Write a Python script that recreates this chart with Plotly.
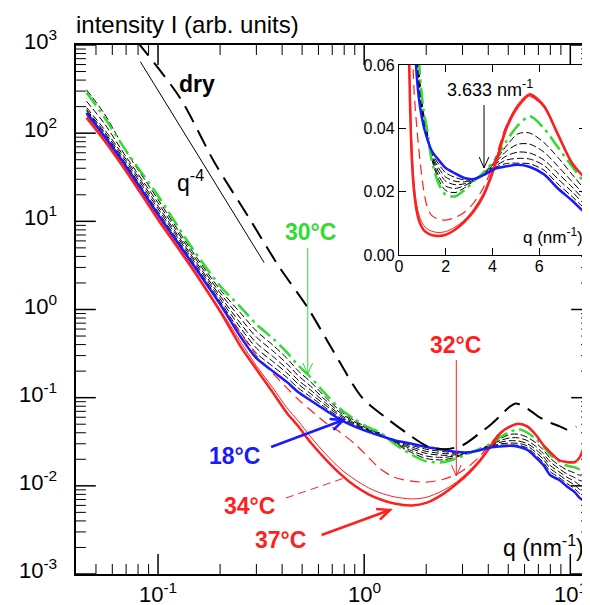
import math
import plotly.graph_objects as go

# ---------------- data ----------------
q = [0.045, 0.055, 0.07, 0.1, 0.14, 0.2, 0.25, 0.3, 0.36, 0.42, 0.48, 0.55, 0.65,
     0.77, 0.9, 1.05, 1.2, 1.4, 1.7, 2.0, 2.4, 2.8, 3.2, 3.63, 4.1, 4.6, 5.1, 5.6,
     6.2, 6.8, 7.4, 8.0, 8.8, 9.6, 10.5, 11.1, 11.6]

I_18 = [170, 92, 42, 12, 3.9, 1.15, 0.50, 0.28, 0.20, 0.152, 0.115, 0.093, 0.072,
        0.056, 0.047, 0.041, 0.037, 0.033, 0.030, 0.0275, 0.0258, 0.0243, 0.024, 0.0253,
        0.0272, 0.028, 0.0285, 0.0278, 0.0255, 0.021, 0.0172, 0.0132, 0.0117, 0.0099,
        0.0085, 0.0073, 0.0068]
I_20 = [180, 99, 44.6, 12.9, 4.14, 1.235, 0.561, 0.32, 0.227, 0.171, 0.128, 0.102, 0.0768,
        0.0584, 0.0484, 0.0417, 0.0373, 0.0325, 0.0287, 0.0260, 0.0245, 0.0237, 0.0239, 0.0254,
        0.0276, 0.0289, 0.029, 0.0288, 0.0268, 0.0224, 0.0185, 0.0145, 0.0125, 0.0107,
        0.0093, 0.0082, 0.0078]
I_22 = [185, 103, 47.4, 13.9, 4.4, 1.326, 0.63, 0.365, 0.258, 0.192, 0.142, 0.111, 0.0818,
        0.0609, 0.0498, 0.0424, 0.0377, 0.032, 0.0275, 0.0246, 0.0233, 0.0231, 0.0238, 0.0255,
        0.028, 0.030, 0.0305, 0.0303, 0.0283, 0.024, 0.020, 0.0157, 0.0134, 0.0116,
        0.0102, 0.0091, 0.0088]
I_24 = [195, 110, 50.4, 14.9, 4.66, 1.425, 0.707, 0.417, 0.294, 0.215, 0.157, 0.122, 0.0871,
        0.0635, 0.0513, 0.0431, 0.0382, 0.0315, 0.0263, 0.0233, 0.0222, 0.0225, 0.0237, 0.0257,
        0.0285, 0.0313, 0.0325, 0.0322, 0.030, 0.0258, 0.0215, 0.017, 0.0145, 0.0126,
        0.0112, 0.0102, 0.010]
I_26 = [230, 128, 54, 16.2, 4.99, 1.545, 0.806, 0.486, 0.34, 0.246, 0.177, 0.135, 0.0936,
        0.0666, 0.053, 0.044, 0.0387, 0.031, 0.025, 0.0218, 0.021, 0.0219, 0.0235, 0.0258,
        0.029, 0.0328, 0.035, 0.035, 0.0325, 0.028, 0.0232, 0.0187, 0.0157, 0.0137,
        0.0124, 0.0115, 0.0113]
I_28 = [310, 165, 62, 17.7, 5.36, 1.68, 0.926, 0.57, 0.396, 0.283, 0.20, 0.151, 0.101,
        0.070, 0.0549, 0.045, 0.0393, 0.0305, 0.0238, 0.0204, 0.0197, 0.0212, 0.0234, 0.026,
        0.0295, 0.0345, 0.0383, 0.0385, 0.0355, 0.0308, 0.0255, 0.0205, 0.0172, 0.0152,
        0.014, 0.0132, 0.0135]
I_30 = [290, 150, 63, 19.5, 5.8, 1.85, 1.08, 0.68, 0.47, 0.33, 0.23, 0.17, 0.11,
        0.074, 0.057, 0.046, 0.040, 0.030, 0.0225, 0.019, 0.0185, 0.0205, 0.0232, 0.0262,
        0.030, 0.036, 0.041, 0.0438, 0.040, 0.034, 0.028, 0.0225, 0.019, 0.017,
        0.0162, 0.0155, 0.0165]
I_32 = [165, 90, 40, 11.8, 3.8, 1.15, 0.55, 0.30, 0.19, 0.13, 0.095, 0.072, 0.052,
        0.040, 0.030, 0.021, 0.0155, 0.0125, 0.0113, 0.0110, 0.0118, 0.0135, 0.0165, 0.0215,
        0.030, 0.041, 0.047, 0.050, 0.0468, 0.038, 0.029, 0.024, 0.0198, 0.0189,
        0.0187, 0.021, 0.025]
I_34 = [160, 87, 39, 11.2, 3.6, 1.0, 0.44, 0.23, 0.13, 0.078, 0.054, 0.036, 0.023,
        0.0155, 0.0118, 0.0095, 0.0083, 0.0075, 0.0071, 0.0074, 0.0088, 0.0110, 0.0145, 0.0198,
        0.029, 0.041, 0.0478, 0.051, 0.0475, 0.0385, 0.0295, 0.0242, 0.0198, 0.0189,
        0.0188, 0.021, 0.026]
I_37 = [150, 82, 37, 10.5, 3.4, 0.95, 0.39, 0.21, 0.115, 0.068, 0.047, 0.031, 0.020,
        0.0135, 0.0100, 0.0080, 0.0070, 0.0063, 0.0060, 0.0064, 0.0080, 0.0105, 0.0138, 0.0190,
        0.028, 0.040, 0.047, 0.0505, 0.047, 0.038, 0.029, 0.0240, 0.0195, 0.0186,
        0.0185, 0.021, 0.027]

dry_q = [0.079, 0.1276, 0.188, 0.274, 0.386, 0.532, 0.71, 0.978, 1.29, 1.6, 2.03, 2.45,
         2.99, 3.73, 4.12, 4.6, 5.03, 5.44, 6.2, 7.0, 8.0, 8.95, 9.6, 10.7]
dry_I = [1100, 253, 46.4, 11.3, 3.07, 1.05, 0.334, 0.10, 0.058, 0.040, 0.028, 0.026,
         0.0287, 0.0414, 0.0497, 0.063, 0.0775, 0.086, 0.075, 0.061, 0.052, 0.047, 0.0436, 0.047]

q4_q = [0.082, 0.327]
q4_I = [648, 3.41]

main_xticks = [0.1, 1, 10]
main_xticktext = ["10<sup>-1</sup>", "10<sup>0</sup>", "10<sup>1</sup>"]
main_yticks = [1e-3, 1e-2, 1e-1, 1, 10, 100, 1000]
main_yticktext = ["10<sup>-3</sup>", "10<sup>-2</sup>", "10<sup>-1</sup>", "10<sup>0</sup>",
                  "10<sup>1</sup>", "10<sup>2</sup>", "10<sup>3</sup>"]
inset_xticks = [0, 2, 4, 6, 8]
inset_yticks = [0, 0.02, 0.04, 0.06]
inset_yticktext = ["0.00", "0.02", "0.04", "0.06"]

X_MIN, X_MAX = 0.04, 12.6
x_minor = [m * 10.0 ** e for e in (-2, -1, 0, 1) for m in range(2, 10)]
y_minor = [m * 10.0 ** e for e in (-3, -2, -1, 0, 1, 2) for m in range(2, 10)]

# ---------------- styling ----------------
W, H = 590, 605
ML, MR, MT, MB = 68, 2, 37, 39
PW, PH = W - ML - MR, H - MT - MB
X0, X1, Y0, Y1 = ML, W - MR, MT, H - MB          # frame in pixels
INSET = (394, 583, 57, 247)                       # inset frame in pixels (l, r, t, b)
FONT = "Liberation Sans, Arial, sans-serif"
BLUE, RED, GREEN = "#1a1aff", "#ff1f1f", "#2fdc2f"


def P(x, y):
    return (x - ML) / PW, (H - MB - y) / PH


def xpix(v):
    lo, hi = math.log10(X_MIN), math.log10(X_MAX)
    return X0 + PW * (math.log10(v) - lo) / (hi - lo)


def ypix(v):
    return Y1 - PH * (math.log10(v) + 3) / 6


fig = go.Figure()

curves = [
    (I_20, "black", 1, "7px,3px"),
    (I_22, "black", 1, "7px,3px"),
    (I_24, "black", 1, "7px,3px"),
    (I_26, "black", 1, "7px,3px"),
    (I_28, "black", 1, "7px,3px"),
    (I_30, GREEN, 2.5, "16px,5px,3px,5px"),
    (I_32, RED, 1.2, "10px,6px"),
    (I_34, RED, 1, "solid"),
    (I_37, RED, 2.5, "solid"),
    (I_18, BLUE, 2.5, "solid"),
]
for vals, color, width, dash in curves:
    for xa, ya in (("x", "y"), ("x2", "y2")):
        fig.add_trace(go.Scatter(
            x=q, y=vals, mode="lines", xaxis=xa, yaxis=ya,
            line=dict(color=color, width=width, dash=dash, shape="spline", smoothing=0.8),
            showlegend=False, hoverinfo="skip"))

fig.add_trace(go.Scatter(x=dry_q, y=dry_I, mode="lines", xaxis="x", yaxis="y",
                         line=dict(color="black", width=2, dash="18px,9px", shape="spline", smoothing=0.8),
                         showlegend=False, hoverinfo="skip"))
fig.add_trace(go.Scatter(x=q4_q, y=q4_I, mode="lines", xaxis="x", yaxis="y",
                         line=dict(color="black", width=1),
                         showlegend=False, hoverinfo="skip"))

fig.update_layout(
    width=W, height=H, margin=dict(l=ML, r=MR, t=MT, b=MB, pad=0),
    paper_bgcolor="white", plot_bgcolor="white",
    font=dict(family=FONT, color="black"),
    xaxis=dict(type="log", range=[math.log10(X_MIN), math.log10(X_MAX)], domain=[0, 1],
               anchor="y", showticklabels=False, ticks="",
               showline=True, linecolor="black", linewidth=1.5, mirror=True,
               showgrid=False, zeroline=False),
    yaxis=dict(type="log", range=[-3, 3], domain=[0, 1], anchor="x",
               showticklabels=False, ticks="",
               showline=True, linecolor="black", linewidth=1.5, mirror=True,
               showgrid=False, zeroline=False),
    xaxis2=dict(range=[0, 8], domain=[P(INSET[0], 0)[0], P(INSET[1], 0)[0]], anchor="y2",
                tickmode="array", tickvals=inset_xticks,
                showline=True, linecolor="black", linewidth=1, mirror="ticks",
                ticks="inside", ticklen=7, tickwidth=1, tickcolor="black",
                showgrid=False, zeroline=False, tickfont=dict(size=16), ticklabelstandoff=-3),
    yaxis2=dict(range=[0, 0.06], domain=[P(0, INSET[3])[1], P(0, INSET[2])[1]], anchor="x2",
                tickmode="array", tickvals=inset_yticks, ticktext=inset_yticktext,
                showline=True, linecolor="black", linewidth=1, mirror="ticks",
                ticks="inside", ticklen=7, tickwidth=1, tickcolor="black",
                showgrid=False, zeroline=False, tickfont=dict(size=16)),
)


def seg(xa, ya, xb, yb, width, color="black", dash="solid"):
    a0, b0 = P(xa, ya)
    a1, b1 = P(xb, yb)
    fig.add_shape(type="line", xref="paper", yref="paper", x0=a0, y0=b0, x1=a1, y1=b1,
                  line=dict(color=color, width=width, dash=dash))


# ticks of the main log-log frame (inside, on all four sides)
for vals, L, w in ((main_yticks, 20, 1.5), (y_minor, 10, 1)):
    for v in vals:
        y = ypix(v)
        seg(X0, y, X0 + L, y, w)
        right_start = X1 - L
        if INSET[2] <= y <= INSET[3]:
            right_start = max(right_start, INSET[1])
        seg(right_start, y, X1, y, w)
for vals, L, w in ((main_xticks, 20, 1.5), (x_minor, 10, 1)):
    for v in vals:
        if not (X_MIN < v < X_MAX):
            continue
        x = xpix(v)
        seg(x, Y1, x, Y1 - L, w)
        seg(x, Y0, x, Y0 + L, w)

# tick labels of the main frame
for v, t in zip(main_yticks, main_yticktext):
    xp, yp = P(51, ypix(v) - 5)
    fig.add_annotation(x=xp, y=yp, xref="paper", yref="paper", text=t, showarrow=False,
                       xanchor="right", yanchor="middle", font=dict(size=22, color="black", family=FONT))
for v, t in zip(main_xticks, main_xticktext):
    xp, yp = P(xpix(v), 585)
    fig.add_annotation(x=xp, y=yp, xref="paper", yref="paper", text=t, showarrow=False,
                       xanchor="center", yanchor="middle", font=dict(size=22, color="black", family=FONT))


def arrow(x0, y0, x1, y1, color, width, head=11, dash="solid", spread=24):
    seg(x0, y0, x1, y1, width, color, dash)
    if head:
        dx, dy = x1 - x0, y1 - y0
        L = math.hypot(dx, dy)
        ux, uy = dx / L, dy / L
        pts = []
        for s in (1, -1):
            an = math.radians(spread) * s
            rx = ux * math.cos(an) - uy * math.sin(an)
            ry = ux * math.sin(an) + uy * math.cos(an)
            pts.append(P(x1 - head * rx, y1 - head * ry))
        a1, b1 = P(x1, y1)
        path = "M {} {} L {} {} L {} {}".format(pts[0][0], pts[0][1], a1, b1, pts[1][0], pts[1][1])
        fig.add_shape(type="path", xref="paper", yref="paper", path=path,
                      line=dict(color=color, width=width))


arrow(302, 240, 302, 366, GREEN, 1, head=12)
arrow(452, 352, 452, 468, RED, 1, head=12)
arrow(265, 439, 338, 412, BLUE, 2.5, head=14)
arrow(316, 527, 385, 502, RED, 2.5, head=14)
arrow(280, 490, 342, 469, RED, 1, head=0, dash="8px,5px")
arrow(480, 97, 480, 160, "black", 1, head=12)


def text(x, y, s, size, color="black", bold=False, xanchor="center"):
    xp, yp = P(x, y)
    fig.add_annotation(x=xp, y=yp, xref="paper", yref="paper", text=("<b>%s</b>" % s) if bold else s,
                       showarrow=False, xanchor=xanchor, yanchor="middle",
                       font=dict(size=size, color=color, family=FONT))


text(66, 16, "intensity I (arb. units)", 24, xanchor="left")
text(190, 76, "dry", 23, bold=True)
text(184, 173, "q<sup>-4</sup>", 23)
text(305, 224, "30°C", 23, GREEN, bold=True)
text(451, 337, "32°C", 23, RED, bold=True)
text(228, 448, "18°C", 23, BLUE, bold=True)
text(243, 498, "34°C", 23, RED, bold=True)
text(274, 532, "37°C", 23, RED, bold=True)
text(486, 80, "3.633 nm<sup>-1</sup>", 18)
text(582, 228, "q (nm<sup>-1</sup>)", 17, xanchor="right")
text(583, 538, "q (nm<sup>-1</sup>)", 23, xanchor="right")

fig.write_html("out.html")
